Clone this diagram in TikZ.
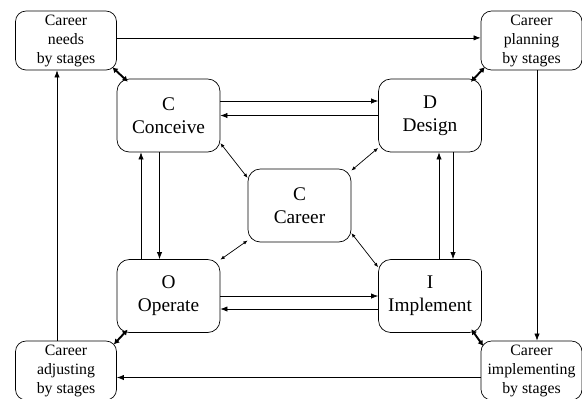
\documentclass[tikz,border=0pt]{standalone}
\usepackage{fontspec}
\setmainfont{Liberation Serif}
\usetikzlibrary{arrows.meta}

\begin{document}
\begin{tikzpicture}[
    cdiobox/.style={draw, rounded corners=7pt, minimum width=2.06cm, minimum height=1.46cm, align=center, inner sep=1pt, font=\fontsize{11}{13}\selectfont},
    stagebox/.style={draw, rounded corners=6pt, minimum width=2.02cm, minimum height=1.18cm, align=center, inner sep=1pt, font=\fontsize{9}{10.8}\selectfont},
    flow/.style={-{Latex[length=4pt,width=3pt]}},
    link/.style={{Latex[length=2.5pt,width=2pt]}-{Latex[length=2.5pt,width=2pt]}},
    tie/.style={line width=1.1pt, shorten <=-2.5pt, shorten >=-2.5pt, {Latex[length=3pt,width=3.5pt]}-{Latex[length=3pt,width=3.5pt]}}
]
    % Fix the page size
    \useasboundingbox (0,0) rectangle (11.64,-7.96);
    % Outer ring of stage boxes
    \node[stagebox] (needs) at (1.32,-0.81) {Career\\needs\\by stages};
    \node[stagebox] (planning) at (10.63,-0.81) {Career\\planning\\by stages};
    \node[stagebox] (implementing) at (10.63,-7.41) {Career\\implementing\\by stages};
    \node[stagebox] (adjusting) at (1.32,-7.41) {Career\\adjusting\\by stages};
    % CDIO boxes and the centre
    \node[cdiobox] (conceive) at (3.37,-2.31) {C\\Conceive};
    \node[cdiobox] (design) at (8.6,-2.31) {D\\Design};
    \node[cdiobox] (implement) at (8.6,-5.92) {I\\Implement};
    \node[cdiobox] (operate) at (3.37,-5.92) {O\\Operate};
    \node[cdiobox] (career) at (5.99,-4.11) {C\\Career};

    % Outer cycle
    \draw[flow] ([yshift=1.5pt]needs.east) -- ([yshift=1.5pt]planning.west);
    \draw[flow] ([xshift=0.11cm]planning.south) -- ([xshift=0.11cm]implementing.north);
    \draw[flow] ([yshift=-0.14cm]implementing.west) -- ([yshift=-0.14cm]adjusting.east);
    \draw[flow] ([xshift=-0.18cm]adjusting.north) -- ([xshift=-0.18cm]needs.south);

    % Inner cycle, both ways
    \draw[flow] ([yshift=0.29cm]conceive.east) -- ([yshift=0.29cm]design.west);
    \draw[flow] (design.west) -- (conceive.east);
    \draw[flow] ([xshift=0.46cm]design.south) -- ([xshift=0.46cm]implement.north);
    \draw[flow] ([xshift=0.18cm]implement.north) -- ([xshift=0.18cm]design.south);
    \draw[flow] (operate.east) -- (implement.west);
    \draw[flow] ([yshift=-0.26cm]implement.west) -- ([yshift=-0.26cm]operate.east);
    \draw[flow] ([xshift=-0.18cm]conceive.south) -- ([xshift=-0.18cm]operate.north);
    \draw[flow] ([xshift=-0.55cm]operate.north) -- ([xshift=-0.55cm]conceive.south);

    % Centre to the four phases
    \draw[link] (conceive.-28) -- (career.152);
    \draw[link] (design.212) -- (career.34);
    \draw[link] (operate.35) -- (career.214);
    \draw[link] (implement.151) -- (career.-28);

    % Phase to stage ties
    \draw[tie] (needs.-31) -- (conceive.140);
    \draw[tie] (planning.211) -- (design.40);
    \draw[tie] (adjusting.30) -- (operate.220);
    \draw[tie] (implementing.151) -- (implement.-40);
\end{tikzpicture}
\end{document}
